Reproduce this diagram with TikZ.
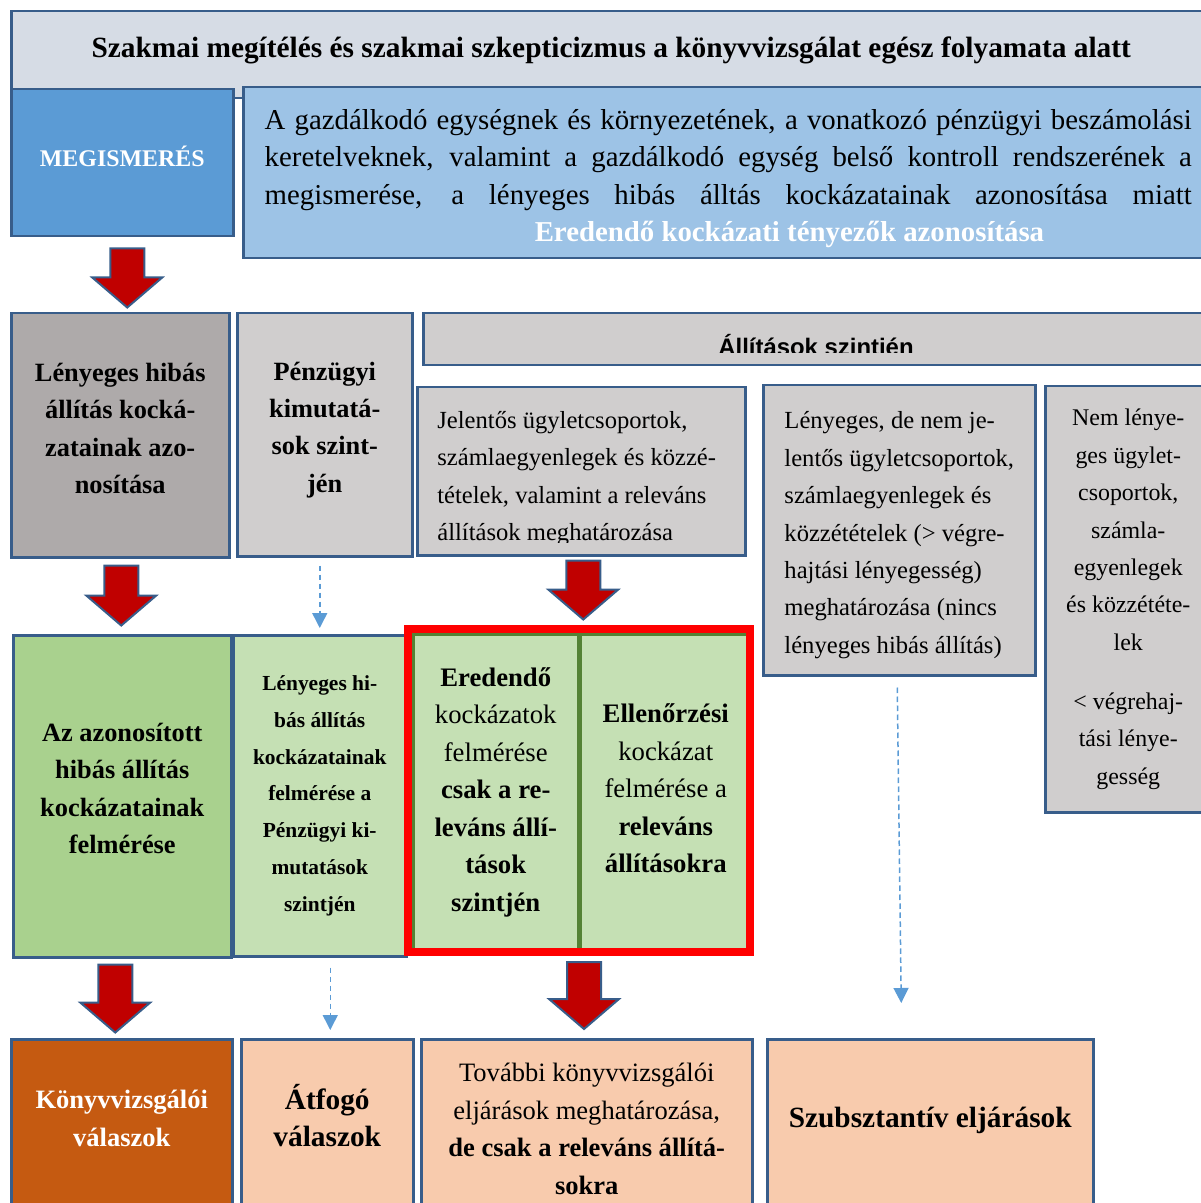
\documentclass[tikz,border=0pt]{standalone}
\usepackage{fontspec}
\setmainfont{Liberation Serif}
\setsansfont{Liberation Sans}
\usetikzlibrary{arrows.meta,calc}
\definecolor{vonal}{HTML}{385D8A}
\definecolor{cimszin}{HTML}{D6DCE5}
\definecolor{kekkozep}{HTML}{5B9BD5}
\definecolor{kekvilagos}{HTML}{9DC3E6}
\definecolor{szurkesotet}{HTML}{AEAAAA}
\definecolor{szurke}{HTML}{D0CECE}
\definecolor{zoldsotet}{HTML}{A9D18E}
\definecolor{zoldvilagos}{HTML}{C5E0B4}
\definecolor{zoldvonal}{HTML}{548235}
\definecolor{narancs}{HTML}{C55A11}
\definecolor{barack}{HTML}{F8CBAD}
\definecolor{pirosnyil}{HTML}{C00000}
\colorlet{szaggatottszin}{kekkozep}
\newcommand{\betu}[1]{\fontsize{#1}{21.3pt}\selectfont}
\newcommand{\feljebb}[1]{\rule[-#1]{0pt}{0pt}}
\newcommand{\lejjebb}[1]{\rule{0pt}{#1}}
\tikzset{
    doboz/.style={draw=vonal,line width=0.5mm,inner sep=0pt,anchor=north west,align=center},
    meret/.style 2 args={minimum width=#1*0.2mm,minimum height=#2*0.2mm},
    szaggatott/.style={szaggatottszin,line width=0.3mm,dash pattern=on 1.1mm off 0.7mm,
        -{Triangle[width=3mm,length=3mm]}},
    vastagnyil/.pic={\draw[fill=pirosnyil,draw=vonal,line width=0.4mm]
        (-17,0) -- (-17,#1-30) -- (-35,#1-30) -- (0,#1) -- (35,#1-30) -- (17,#1-30) -- (17,0) -- cycle;}
}
\begin{document}
\begin{tikzpicture}[x=0.2mm,y=-0.2mm]
    \useasboundingbox (0,0) rectangle (1200,1203);
    \node[doboz,meret={1200}{87},fill=cimszin,font=\betu{16.7pt}\bfseries,text depth=3mm] (cim) at (10,10)
        {Szakmai megítélés és szakmai szkepticizmus a könyvvizsgálat egész folyamata alatt};
    \node[doboz,meret={222}{147},fill=kekkozep,text=white,font=\betu{13.6pt}\bfseries] (megism) at (10,88)
        {MEGISMERÉS\feljebb{2.4mm}};
    \node[doboz,meret={970}{171},fill=kekvilagos,text width=185.4mm,align=justify,font=\betu{16.4pt}] (leiras) at (242,86)
        {\sloppy\lejjebb{6.3mm}A gazdálkodó egységnek és környezetének, a vonatkozó pénzügyi beszámolási\linebreak
        keretelveknek, valamint a gazdálkodó egység belső kontroll rendszerének a\linebreak
        megismerése, a lényeges hibás álltás kockázatainak azonosítása miatt\linebreak
        \hspace*{54mm}{\bfseries\color{white}Eredendő kockázati tényezők azonosítása}};

    \node[doboz,meret={218}{244},fill=szurkesotet,font=\betu{15pt}\bfseries] (lhaz) at (10,312)
        {Lényeges hibás\\állítás kocká-\\zatainak azo-\\nosítása\feljebb{2.8mm}};
    \node[doboz,meret={175}{243},fill=szurke,font=\betu{15pt}\bfseries] (pk) at (236,312)
        {Pénzügyi\\kimutatá-\\sok szint-\\jén\feljebb{3.1mm}};
    \node[doboz,meret={790}{52},fill=szurke] (allit) at (422,312) {};
    \begin{scope}
        \clip (422,312) rectangle (1210,353);
        \node[inner sep=0pt,anchor=base,font=\sffamily\bfseries\fontsize{13.6pt}{16pt}\selectfont] (allitcim) at (816,356)
            {Állítások szintjén};
    \end{scope}
    \node[doboz,meret={328}{168},fill=szurke] (jelentos) at (416,386) {};
    \begin{scope}
        \clip (416,386) rectangle (744,542);
        \node[inner sep=0pt,anchor=north west,align=left,font=\betu{14pt}] (jelentosszoveg) at (437,411)
            {Jelentős ügyletcsoportok,\\számlaegyenlegek és közzé-\\tételek, valamint a releváns\\állítások meghatározása};
    \end{scope}
    \node[doboz,meret={272}{290},fill=szurke,align=left,font=\betu{14pt}] (lenyeges) at (762,384)
        {\lejjebb{5.4mm}Lényeges, de nem je-\\lentős ügyletcsoportok,\\számlaegyenlegek és\\közzétételek (> végre-\\hajtási lényegesség)\\meghatározása (nincs\\lényeges hibás állítás)};
    \node[doboz,meret={166}{426},fill=szurke,font=\betu{13.6pt}] (nemleny) at (1044,385)
        {Nem lénye-\\ges ügylet-\\csoportok,\\számla-\\egyenlegek\\és közzététe-\\lek\\[4.3mm]< végrehaj-\\tási lénye-\\gesség};

    \node[doboz,meret={218}{322},fill=zoldsotet,font=\betu{15pt}\bfseries] (azon) at (12,634)
        {Az azonosított\\hibás állítás\\kockázatainak\\felmérése\feljebb{3.2mm}};
    \node[doboz,meret={173}{321},fill=zoldvilagos,font=\fontsize{12.2pt}{21pt}\selectfont\bfseries] (lhfel) at (232,634)
        {Lényeges hi-\\bás állítás\\kockázatainak\\felmérése a\\Pénzügyi ki-\\mutatások\\szintjén};
    \node[doboz,meret={165}{316},fill=zoldvilagos,draw=zoldvonal,font=\betu{15.2pt}] (ered) at (412,633)
        {\textbf{Eredendő}\\kockázatok\\felmérése\\\textbf{csak a re-}\\\textbf{leváns állí-}\\\textbf{tások}\\\textbf{szintjén}};
    \node[doboz,meret={170}{316},fill=zoldvilagos,draw=zoldvonal,font=\betu{15.2pt}] (ellen) at (ered.north east)
        {\textbf{Ellenőrzési}\\kockázat\\felmérése a\\\textbf{releváns}\\\textbf{állításokra}\feljebb{1.6mm}};
    \node[doboz,meret={342}{323},draw=red,line width=1.6mm] (piroskeret) at (404,625) {};

    \node[doboz,meret={221}{170},fill=narancs,text=white,font=\betu{15.1pt}\bfseries] (konyv) at (10,1038)
        {Könyvvizsgálói\\válaszok\feljebb{2.4mm}};
    \node[doboz,meret={172}{170},fill=barack,font=\betu{16.7pt}\bfseries] (atfogo) at (240,1038)
        {Átfogó\\válaszok\feljebb{3.6mm}};
    \node[doboz,meret={331}{170},fill=barack,font=\betu{15.1pt}] (tovabbi) at (420,1038)
        {\lejjebb{5.6mm}További könyvvizsgálói\\eljárások meghatározása,\\\textbf{de csak a releváns állítá-}\\\textbf{sokra}};
    \node[doboz,meret={326}{170},fill=barack,font=\betu{16.7pt}\bfseries] (szubszt) at (766,1038)
        {Szubsztantív eljárások\feljebb{2.9mm}};

    \pic at ($(megism.south)+(5,11)$) {vastagnyil=59};
    \pic at ($(lhaz.south)+(1,7)$) {vastagnyil=60};
    \pic at ($(jelentos.south)+(2,4)$) {vastagnyil=59};
    \pic at ($(azon.south)+(-7,6)$) {vastagnyil=68};
    \pic at ($(piroskeret.south)+(5,6)$) {vastagnyil=67};

    \draw[szaggatott] ($(pk.south -| lhfel.north)+(0,8)$) -- ($(lhfel.north)+(0,-6)$);
    \draw[szaggatott] ($(lenyeges.south)+(-2,11)$) -- ($(lenyeges.south |- szubszt.north)+(2,-35)$);
    \draw[szaggatott] ($(lhfel.south -| atfogo.north)+(3,10)$) -- ($(atfogo.north)+(3,-8)$);
\end{tikzpicture}
\end{document}
